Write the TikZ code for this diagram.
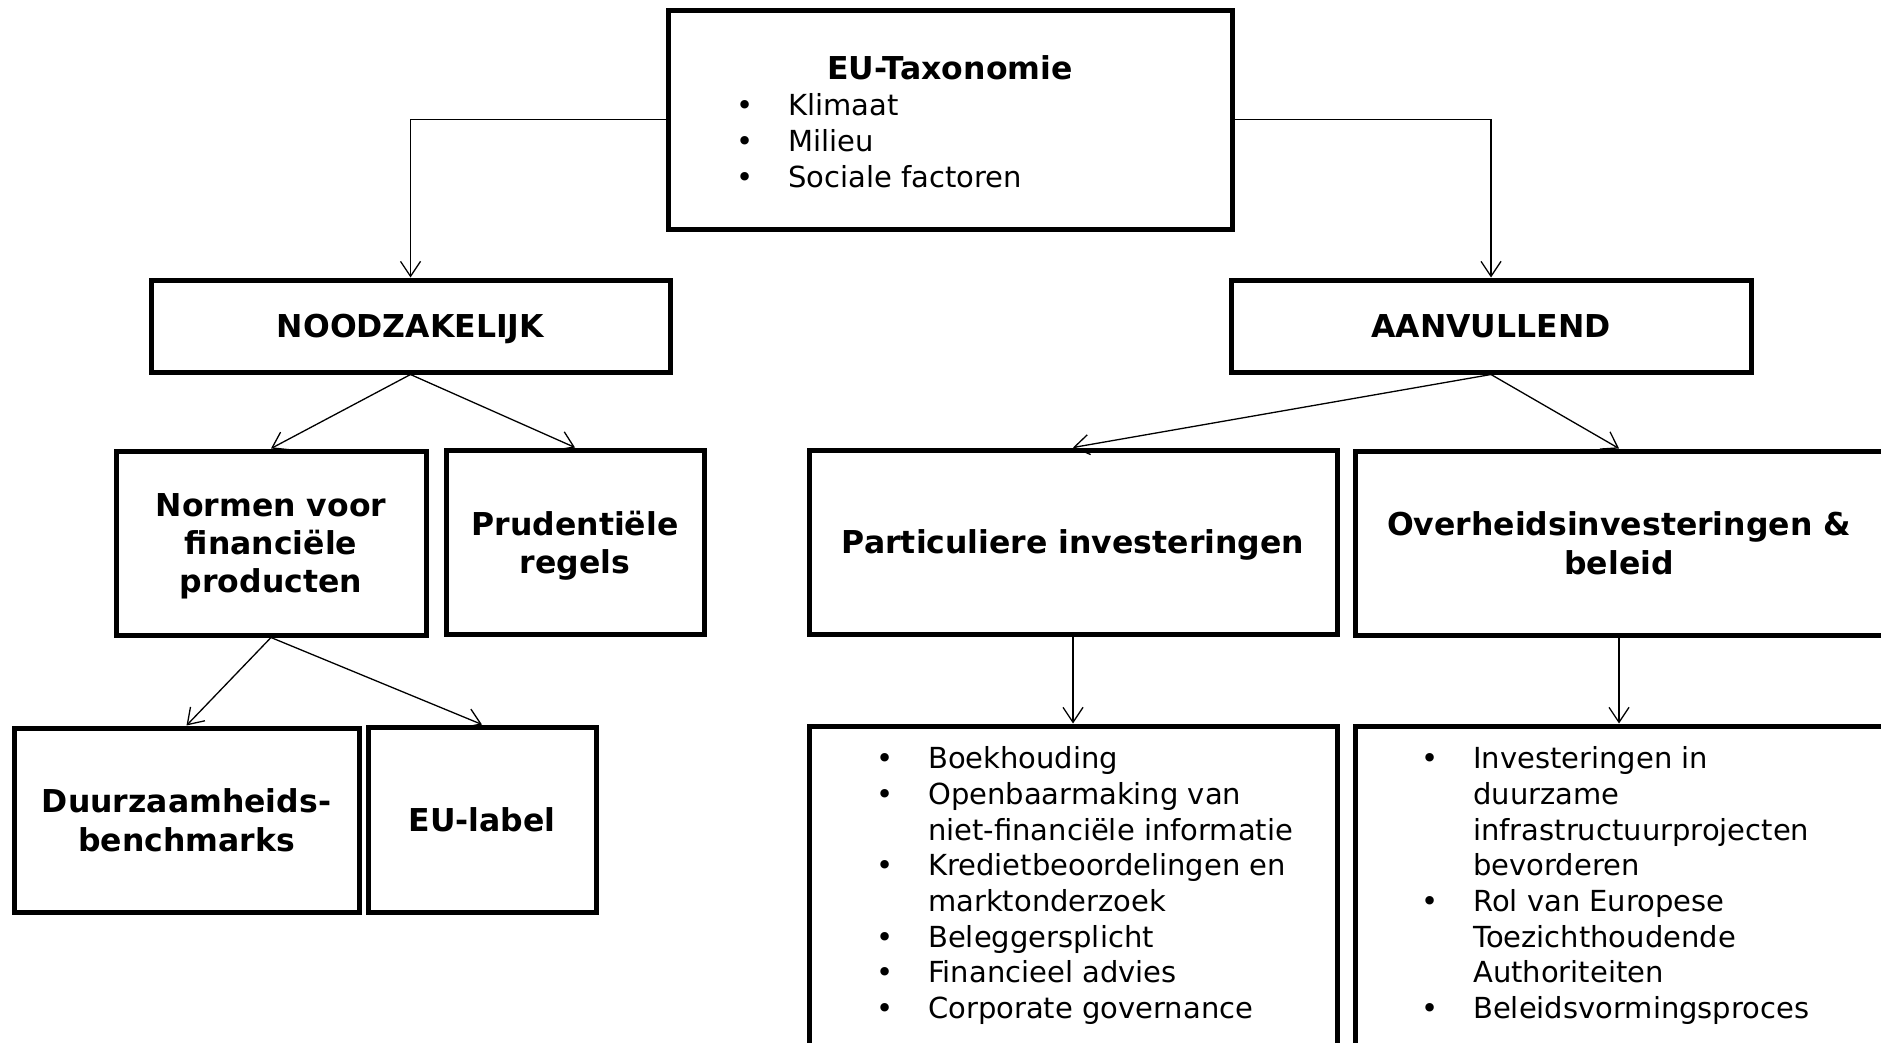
\documentclass[tikz,border=0pt]{standalone}
\usepackage{fontspec}
\setmainfont{DejaVu Sans}
\usetikzlibrary{arrows.meta}
\newcommand{\bul}{\makebox[52pt][l]{•}}
\tikzset{
	box/.style={draw, line width=5pt, inner sep=0pt},
	kop/.style={font=\bfseries\fontsize{31.5}{38.4}\selectfont, align=center, text depth=0pt},
	lijst/.style={font=\fontsize{29}{35.7}\selectfont, align=left, inner sep=0pt},
	pijl/.style={line width=1.3pt, -{Straight Barb[length=15pt,width=20pt]}}
}
\begin{document}
\begin{tikzpicture}[x=1pt,y=-1pt]
			\useasboundingbox (0,0) rectangle (1881,1042);
			\node[box, minimum width=564, minimum height=219] (tax) at (950,119.5) {};
			\node[kop] (taxkop) at (950,68) {EU-Taxonomie};
			\node[lijst, anchor=north west] (taxlijst) at (736,93.5) {\bul Klimaat\\\bul Milieu\\\bul Sociale factoren};
			\node[box, kop, minimum width=519, minimum height=92] (nood) at (410.5,326) {NOODZAKELIJK};
			\node[box, kop, minimum width=520, minimum height=92] (aanv) at (1491,326) {AANVULLEND};
			\node[box, kop, minimum width=310, minimum height=184] (normen) at (271,543) {Normen voor\\financiële\\producten};
			\node[box, kop, minimum width=258, minimum height=184] (prud) at (575,542) {Prudentiële\\regels};
			\node[box, kop, minimum width=345, minimum height=184] (duurz) at (186.5,820) {Duurzaamheids-\\benchmarks};
			\node[box, kop, minimum width=228, minimum height=185] (eulabel) at (482,819.5) {EU-label};
			\node[box, kop, minimum width=528, minimum height=184] (partic) at (1073,542) {Particuliere investeringen};
			\node[box, kop, minimum width=528, minimum height=184] (overh) at (1619,543) {Overheidsinvesteringen \&\\beleid};
			\node[box, minimum width=528, minimum height=324] (lijst1) at (1073,888) {};
			\node[box, minimum width=528, minimum height=324] (lijst2) at (1619,888) {};
			\node[lijst, anchor=north west] (lijst1tekst) at (876,746.5) {\bul Boekhouding\\\bul Openbaarmaking van\\\hspace*{52pt}niet-financiële informatie\\\bul Kredietbeoordelingen en\\\hspace*{52pt}marktonderzoek\\\bul Beleggersplicht\\\bul Financieel advies\\\bul Corporate governance};
			\node[lijst, anchor=north west] (lijst2tekst) at (1421,746.5) {\bul Investeringen in\\\hspace*{52pt}duurzame\\\hspace*{52pt}infrastructuurprojecten\\\hspace*{52pt}bevorderen\\\bul Rol van Europese\\\hspace*{52pt}Toezichthoudende\\\hspace*{52pt}Authoriteiten\\\bul Beleidsvormingsproces};
			\draw[pijl] (tax.west) -| (nood.north);
			\draw[pijl] (tax.east) -| (aanv.north);
			\draw[pijl] (nood.south) -- (normen.north);
			\draw[pijl] (nood.south) -- (prud.north);
			\draw[pijl] (normen.south) -- (duurz.north);
			\draw[pijl] (normen.south) -- (eulabel.north);
			\draw[pijl] (aanv.south) -- (partic.north);
			\draw[pijl] (aanv.south) -- (overh.north);
			\draw[pijl] (partic.south) -- (lijst1.north);
			\draw[pijl] (overh.south) -- (lijst2.north);
		\end{tikzpicture}
\end{document}
